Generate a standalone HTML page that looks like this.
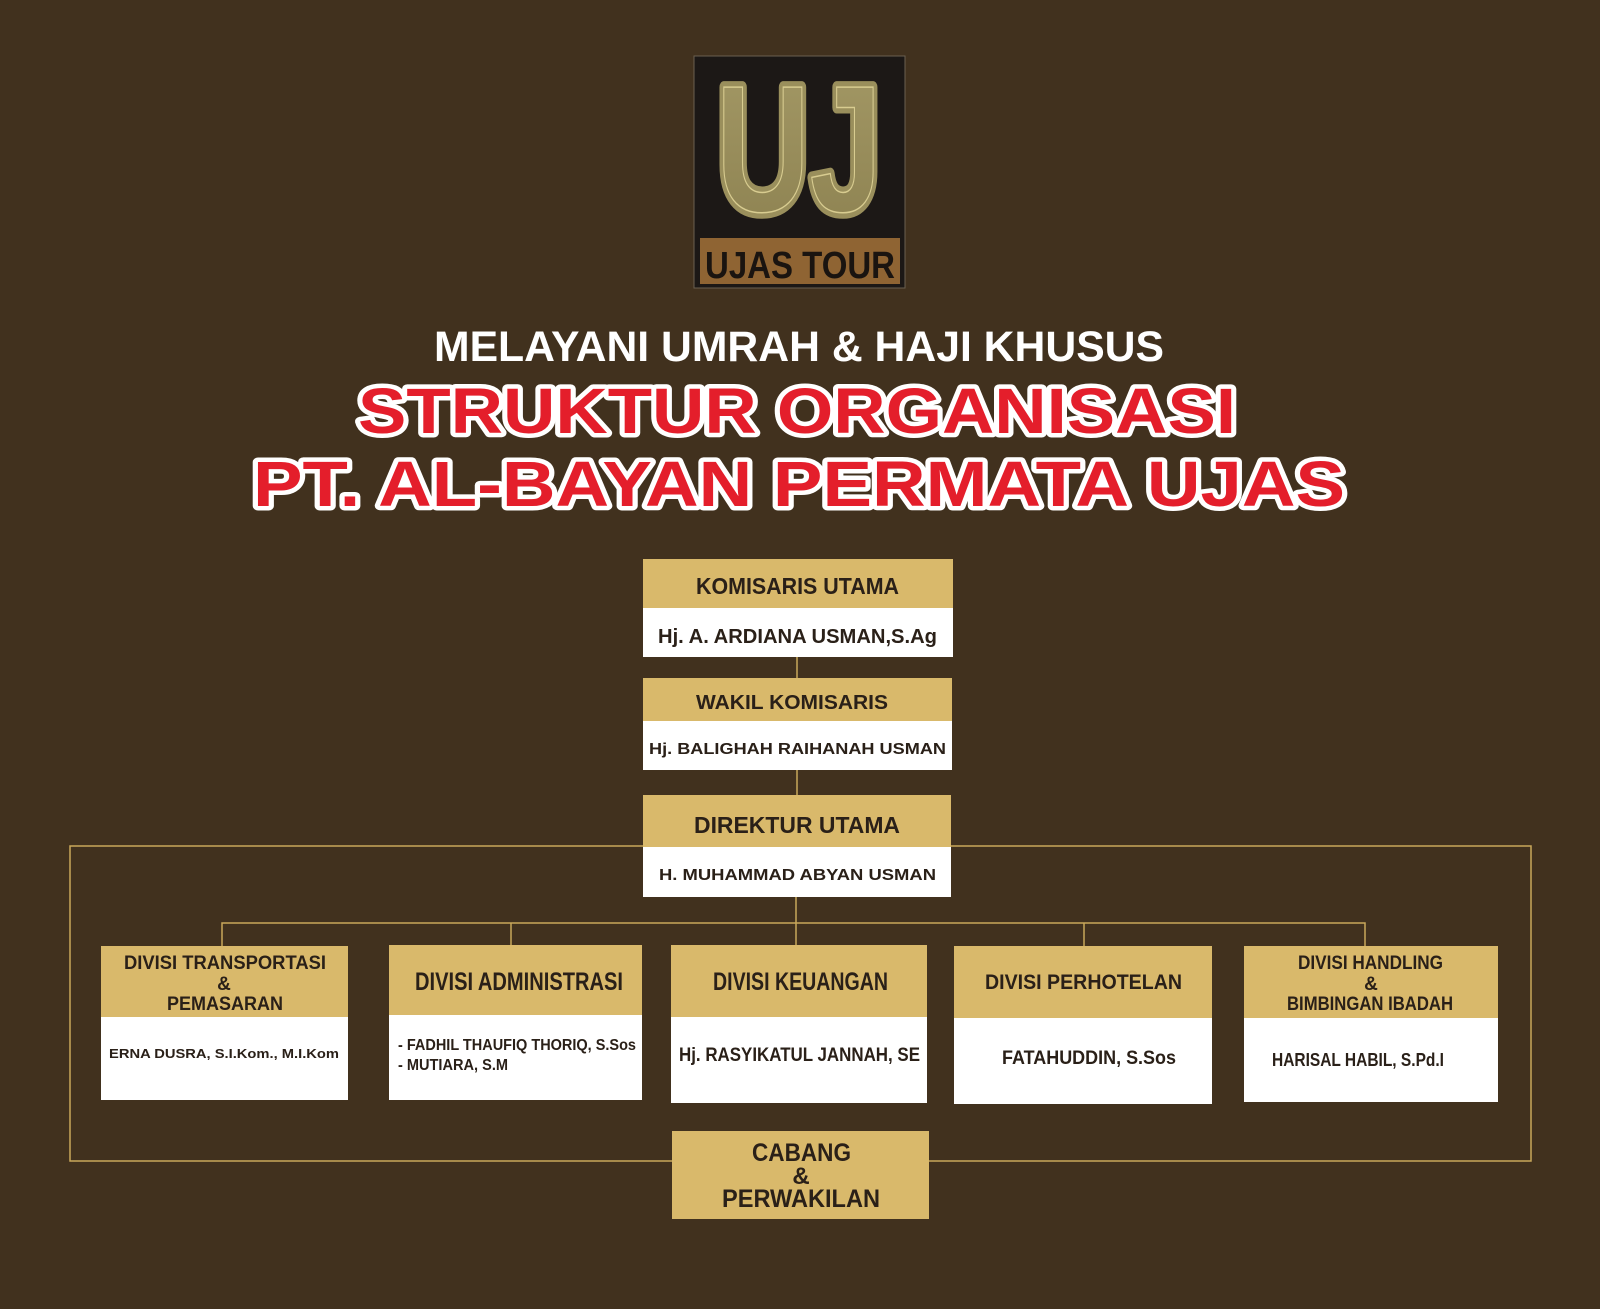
<!DOCTYPE html>
<html><head><meta charset="utf-8"><style>
html,body{margin:0;padding:0;background:#41311e;}
svg{display:block}
</style></head><body>
<svg width="1600" height="1309" viewBox="0 0 1600 1309" xmlns="http://www.w3.org/2000/svg" font-family="Liberation Sans Narrow, Liberation Sans, sans-serif" font-weight="bold">
<rect width="1600" height="1309" fill="#41311e"/>
<defs>
<linearGradient id="g" x1="0" y1="0" x2="0" y2="1"><stop offset="0" stop-color="#a49966"/><stop offset="1" stop-color="#8c8150"/></linearGradient>
</defs>
<!-- logo -->
<rect x="694" y="56" width="211" height="232" fill="#1c1816" stroke="#6a6050" stroke-width="1"/>
<text x="716" y="211" font-size="180" fill="url(#g)" stroke="#9a8f5c" stroke-width="12" stroke-linejoin="round" paint-order="stroke" font-family="Liberation Sans, sans-serif" textLength="166" lengthAdjust="spacingAndGlyphs">UJ</text>
<text x="716" y="211" font-size="180" fill="none" stroke="#d8cc90" stroke-width="1.5" font-family="Liberation Sans, sans-serif" textLength="166" lengthAdjust="spacingAndGlyphs">UJ</text>
<rect x="700" y="238" width="200" height="46" fill="#8f6433"/>
<text x="705" y="278" font-size="38" fill="#1a1410" textLength="190" lengthAdjust="spacingAndGlyphs">UJAS TOUR</text>
<!-- titles -->
<text x="434" y="361" font-size="43" fill="#fff" font-family="Liberation Sans, sans-serif" textLength="730" lengthAdjust="spacingAndGlyphs">MELAYANI UMRAH &amp; HAJI KHUSUS</text>
<g font-family="Liberation Sans, sans-serif" font-weight="900" fill="#e41e2b" stroke="#fff" stroke-width="9" paint-order="stroke" stroke-linejoin="round">
<text x="358" y="433" font-size="64" textLength="878" lengthAdjust="spacingAndGlyphs">STRUKTUR  ORGANISASI</text>
<text x="253" y="506" font-size="64" textLength="1092" lengthAdjust="spacingAndGlyphs">PT.  AL-BAYAN  PERMATA  UJAS</text>
</g>
<!-- connectors -->
<g stroke="#c9a85a" stroke-width="1.5" fill="none">
<rect x="70" y="846" width="1461" height="315"/>
<line x1="797" y1="657" x2="797" y2="678"/>
<line x1="797" y1="770" x2="797" y2="795"/>
<line x1="796" y1="897" x2="796" y2="946"/>
<polyline points="222,946 222,923 1365,923 1365,946"/>
<line x1="511" y1="923" x2="511" y2="946"/>
<line x1="1084" y1="923" x2="1084" y2="946"/>
</g>
<!-- top boxes -->
<g fill="#d9b96b"><rect x="643" y="559" width="310" height="49"/><rect x="643" y="678" width="309" height="43"/><rect x="643" y="795" width="308" height="52"/></g>
<g fill="#fff"><rect x="643" y="608" width="310" height="49"/><rect x="643" y="721" width="309" height="49"/><rect x="643" y="847" width="308" height="50"/></g>
<!-- division boxes -->
<g fill="#d9b96b">
<rect x="101" y="946" width="247" height="71"/>
<rect x="389" y="945" width="253" height="70"/>
<rect x="671" y="945" width="256" height="72"/>
<rect x="954" y="946" width="258" height="72"/>
<rect x="1244" y="946" width="254" height="72"/>
<rect x="672" y="1131" width="257" height="88"/>
</g>
<g fill="#fff">
<rect x="101" y="1017" width="247" height="83"/>
<rect x="389" y="1015" width="253" height="85"/>
<rect x="671" y="1017" width="256" height="86"/>
<rect x="954" y="1018" width="258" height="86"/>
<rect x="1244" y="1018" width="254" height="84"/>
</g>
<g fill="#2a2018">
<text x="696" y="594" font-size="23" textLength="203" lengthAdjust="spacingAndGlyphs">KOMISARIS UTAMA</text>
<text x="658" y="643" font-size="20" font-family="Liberation Sans, sans-serif" textLength="279" lengthAdjust="spacingAndGlyphs">Hj. A. ARDIANA USMAN,S.Ag</text>
<text x="696" y="709" font-size="20" textLength="192" lengthAdjust="spacingAndGlyphs">WAKIL KOMISARIS</text>
<text x="649" y="754" font-size="16" font-family="Liberation Sans, sans-serif" textLength="297" lengthAdjust="spacingAndGlyphs">Hj. BALIGHAH RAIHANAH USMAN</text>
<text x="694" y="833" font-size="23" textLength="206" lengthAdjust="spacingAndGlyphs">DIREKTUR UTAMA</text>
<text x="659" y="880" font-size="16" font-family="Liberation Sans, sans-serif" textLength="277" lengthAdjust="spacingAndGlyphs">H. MUHAMMAD ABYAN USMAN</text>

<text x="124" y="969" font-size="19" textLength="202" lengthAdjust="spacingAndGlyphs">DIVISI TRANSPORTASI</text>
<text x="224" y="990" font-size="19" text-anchor="middle">&amp;</text>
<text x="167" y="1010" font-size="19" textLength="116" lengthAdjust="spacingAndGlyphs">PEMASARAN</text>
<text x="109" y="1058" font-size="13" font-family="Liberation Sans, sans-serif" textLength="230" lengthAdjust="spacingAndGlyphs">ERNA DUSRA, S.I.Kom., M.I.Kom</text>

<text x="415" y="990" font-size="25" textLength="208" lengthAdjust="spacingAndGlyphs">DIVISI ADMINISTRASI</text>
<text x="398" y="1050" font-size="16" textLength="238" lengthAdjust="spacingAndGlyphs">- FADHIL THAUFIQ THORIQ, S.Sos</text>
<text x="398" y="1070" font-size="16" textLength="110" lengthAdjust="spacingAndGlyphs">- MUTIARA, S.M</text>

<text x="713" y="990" font-size="25" textLength="175" lengthAdjust="spacingAndGlyphs">DIVISI KEUANGAN</text>
<text x="679" y="1061" font-size="19" textLength="241" lengthAdjust="spacingAndGlyphs">Hj. RASYIKATUL JANNAH, SE</text>

<text x="985" y="989" font-size="21" textLength="197" lengthAdjust="spacingAndGlyphs">DIVISI PERHOTELAN</text>
<text x="1002" y="1064" font-size="19" textLength="174" lengthAdjust="spacingAndGlyphs">FATAHUDDIN, S.Sos</text>

<text x="1298" y="969" font-size="19" textLength="145" lengthAdjust="spacingAndGlyphs">DIVISI HANDLING</text>
<text x="1371" y="990" font-size="19" text-anchor="middle">&amp;</text>
<text x="1287" y="1010" font-size="19" textLength="166" lengthAdjust="spacingAndGlyphs">BIMBINGAN IBADAH</text>
<text x="1272" y="1066" font-size="18" textLength="172" lengthAdjust="spacingAndGlyphs">HARISAL HABIL, S.Pd.I</text>

<text x="752" y="1161" font-size="25" textLength="99" lengthAdjust="spacingAndGlyphs">CABANG</text>
<text x="801" y="1184" font-size="24" text-anchor="middle">&amp;</text>
<text x="722" y="1207" font-size="25" textLength="158" lengthAdjust="spacingAndGlyphs">PERWAKILAN</text>
</g>
</svg>
</body></html>
